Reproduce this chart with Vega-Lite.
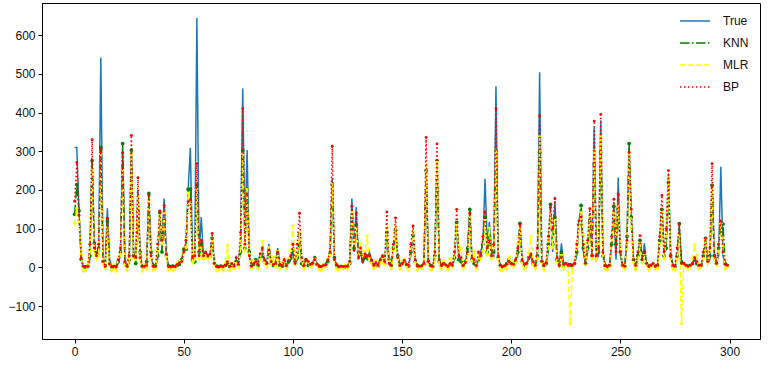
{
"$schema": "https://vega.github.io/schema/vega-lite/v6.json",
"width": 718, "height": 336,
"autosize": {"type": "none"},
"padding": {"left": 42, "top": 3, "right": 8, "bottom": 26},
"background": "white",
"config": {
 "view": {"stroke": "black", "strokeWidth": 1},
 "axis": {"labelFont": "Liberation Sans", "labelFontSize": 12, "labelColor": "#111", "tickColor": "black", "tickSize": 4, "labelPadding": 3, "domainColor": "black", "grid": false, "title": null},
 "legend": {"labelFont": "Liberation Sans", "labelFontSize": 12, "labelColor": "#111"}
},
"data": {"values": [
{"i":0,"True":310,"KNN":137,"MLR":111,"BP":171},
{"i":1,"True":310,"KNN":214,"MLR":150,"BP":271},
{"i":2,"True":140,"KNN":146,"MLR":117,"BP":135},
{"i":3,"True":20,"KNN":21,"MLR":30,"BP":25},
{"i":4,"True":0,"KNN":2,"MLR":-12,"BP":3},
{"i":5,"True":0,"KNN":1,"MLR":-10,"BP":2},
{"i":6,"True":0,"KNN":2,"MLR":5,"BP":3},
{"i":7,"True":20,"KNN":30,"MLR":40,"BP":60},
{"i":8,"True":270,"KNN":276,"MLR":250,"BP":330},
{"i":9,"True":60,"KNN":63,"MLR":40,"BP":50},
{"i":10,"True":30,"KNN":35,"MLR":20,"BP":30},
{"i":11,"True":40,"KNN":50,"MLR":30,"BP":60},
{"i":12,"True":542,"KNN":310,"MLR":290,"BP":305},
{"i":13,"True":20,"KNN":15,"MLR":10,"BP":15},
{"i":14,"True":5,"KNN":5,"MLR":-5,"BP":2},
{"i":15,"True":153,"KNN":120,"MLR":100,"BP":127},
{"i":16,"True":20,"KNN":10,"MLR":5,"BP":8},
{"i":17,"True":0,"KNN":2,"MLR":-10,"BP":2},
{"i":18,"True":0,"KNN":1,"MLR":5,"BP":3},
{"i":19,"True":0,"KNN":2,"MLR":-12,"BP":1},
{"i":20,"True":10,"KNN":15,"MLR":25,"BP":20},
{"i":21,"True":30,"KNN":40,"MLR":30,"BP":50},
{"i":22,"True":300,"KNN":320,"MLR":250,"BP":296},
{"i":23,"True":20,"KNN":10,"MLR":5,"BP":15},
{"i":24,"True":5,"KNN":3,"MLR":-8,"BP":4},
{"i":25,"True":10,"KNN":20,"MLR":20,"BP":30},
{"i":26,"True":300,"KNN":303,"MLR":290,"BP":341},
{"i":27,"True":40,"KNN":30,"MLR":20,"BP":30},
{"i":28,"True":20,"KNN":10,"MLR":20,"BP":25},
{"i":29,"True":200,"KNN":145,"MLR":180,"BP":232},
{"i":30,"True":30,"KNN":40,"MLR":20,"BP":25},
{"i":31,"True":0,"KNN":3,"MLR":-10,"BP":2},
{"i":32,"True":0,"KNN":2,"MLR":5,"BP":3},
{"i":33,"True":10,"KNN":15,"MLR":-5,"BP":5},
{"i":34,"True":180,"KNN":191,"MLR":170,"BP":185},
{"i":35,"True":30,"KNN":40,"MLR":20,"BP":30},
{"i":36,"True":0,"KNN":5,"MLR":-8,"BP":3},
{"i":37,"True":0,"KNN":3,"MLR":-5,"BP":2},
{"i":38,"True":20,"KNN":30,"MLR":40,"BP":60},
{"i":39,"True":120,"KNN":142,"MLR":130,"BP":146},
{"i":40,"True":50,"KNN":40,"MLR":60,"BP":70},
{"i":41,"True":178,"KNN":122,"MLR":140,"BP":160},
{"i":42,"True":40,"KNN":30,"MLR":25,"BP":35},
{"i":43,"True":0,"KNN":4,"MLR":-8,"BP":2},
{"i":44,"True":0,"KNN":2,"MLR":-5,"BP":1},
{"i":45,"True":5,"KNN":3,"MLR":-10,"BP":3},
{"i":46,"True":0,"KNN":2,"MLR":-6,"BP":2},
{"i":47,"True":5,"KNN":6,"MLR":10,"BP":8},
{"i":48,"True":10,"KNN":8,"MLR":15,"BP":12},
{"i":49,"True":15,"KNN":20,"MLR":10,"BP":15},
{"i":50,"True":40,"KNN":47,"MLR":35,"BP":40},
{"i":51,"True":60,"KNN":47,"MLR":50,"BP":70},
{"i":52,"True":200,"KNN":202,"MLR":190,"BP":170},
{"i":53,"True":309,"KNN":202,"MLR":160,"BP":175},
{"i":54,"True":30,"KNN":20,"MLR":10,"BP":25},
{"i":55,"True":10,"KNN":15,"MLR":20,"BP":30},
{"i":56,"True":644,"KNN":213,"MLR":200,"BP":268},
{"i":57,"True":30,"KNN":40,"MLR":20,"BP":30},
{"i":58,"True":130,"KNN":60,"MLR":50,"BP":70},
{"i":59,"True":30,"KNN":25,"MLR":20,"BP":30},
{"i":60,"True":40,"KNN":35,"MLR":30,"BP":40},
{"i":61,"True":30,"KNN":25,"MLR":20,"BP":30},
{"i":62,"True":30,"KNN":28,"MLR":25,"BP":35},
{"i":63,"True":75,"KNN":75,"MLR":70,"BP":88},
{"i":64,"True":10,"KNN":10,"MLR":5,"BP":10},
{"i":65,"True":0,"KNN":3,"MLR":-10,"BP":2},
{"i":66,"True":0,"KNN":2,"MLR":-8,"BP":1},
{"i":67,"True":5,"KNN":3,"MLR":0,"BP":3},
{"i":68,"True":0,"KNN":2,"MLR":-10,"BP":2},
{"i":69,"True":5,"KNN":5,"MLR":10,"BP":6},
{"i":70,"True":10,"KNN":10,"MLR":55,"BP":15},
{"i":71,"True":0,"KNN":3,"MLR":-10,"BP":2},
{"i":72,"True":5,"KNN":6,"MLR":8,"BP":10},
{"i":73,"True":0,"KNN":2,"MLR":-5,"BP":3},
{"i":74,"True":20,"KNN":15,"MLR":10,"BP":25},
{"i":75,"True":10,"KNN":5,"MLR":0,"BP":8},
{"i":76,"True":60,"KNN":40,"MLR":50,"BP":90},
{"i":77,"True":462,"KNN":302,"MLR":290,"BP":410},
{"i":78,"True":80,"KNN":50,"MLR":40,"BP":60},
{"i":79,"True":303,"KNN":202,"MLR":200,"BP":190},
{"i":80,"True":30,"KNN":40,"MLR":30,"BP":30},
{"i":81,"True":5,"KNN":5,"MLR":-5,"BP":3},
{"i":82,"True":10,"KNN":8,"MLR":15,"BP":10},
{"i":83,"True":20,"KNN":20,"MLR":10,"BP":15},
{"i":84,"True":10,"KNN":5,"MLR":-5,"BP":8},
{"i":85,"True":30,"KNN":25,"MLR":20,"BP":35},
{"i":86,"True":40,"KNN":30,"MLR":66,"BP":50},
{"i":87,"True":20,"KNN":15,"MLR":10,"BP":20},
{"i":88,"True":10,"KNN":10,"MLR":0,"BP":10},
{"i":89,"True":60,"KNN":40,"MLR":50,"BP":45},
{"i":90,"True":10,"KNN":10,"MLR":5,"BP":15},
{"i":91,"True":5,"KNN":5,"MLR":25,"BP":8},
{"i":92,"True":10,"KNN":8,"MLR":0,"BP":10},
{"i":93,"True":50,"KNN":35,"MLR":40,"BP":40},
{"i":94,"True":10,"KNN":5,"MLR":-5,"BP":8},
{"i":95,"True":5,"KNN":3,"MLR":10,"BP":5},
{"i":96,"True":20,"KNN":15,"MLR":20,"BP":20},
{"i":97,"True":5,"KNN":3,"MLR":-5,"BP":4},
{"i":98,"True":10,"KNN":15,"MLR":20,"BP":18},
{"i":99,"True":20,"KNN":25,"MLR":40,"BP":30},
{"i":100,"True":40,"KNN":45,"MLR":106,"BP":60},
{"i":101,"True":10,"KNN":15,"MLR":5,"BP":10},
{"i":102,"True":20,"KNN":25,"MLR":30,"BP":60},
{"i":103,"True":80,"KNN":85,"MLR":90,"BP":140},
{"i":104,"True":15,"KNN":10,"MLR":20,"BP":25},
{"i":105,"True":5,"KNN":5,"MLR":-5,"BP":5},
{"i":106,"True":20,"KNN":20,"MLR":10,"BP":20},
{"i":107,"True":10,"KNN":5,"MLR":15,"BP":15},
{"i":108,"True":5,"KNN":5,"MLR":0,"BP":8},
{"i":109,"True":10,"KNN":10,"MLR":5,"BP":10},
{"i":110,"True":25,"KNN":25,"MLR":20,"BP":20},
{"i":111,"True":10,"KNN":8,"MLR":5,"BP":8},
{"i":112,"True":5,"KNN":3,"MLR":-8,"BP":3},
{"i":113,"True":0,"KNN":2,"MLR":-10,"BP":2},
{"i":114,"True":5,"KNN":5,"MLR":5,"BP":5},
{"i":115,"True":10,"KNN":8,"MLR":0,"BP":6},
{"i":116,"True":20,"KNN":15,"MLR":20,"BP":20},
{"i":117,"True":30,"KNN":35,"MLR":30,"BP":40},
{"i":118,"True":230,"KNN":214,"MLR":214,"BP":313},
{"i":119,"True":20,"KNN":25,"MLR":15,"BP":20},
{"i":120,"True":5,"KNN":5,"MLR":-5,"BP":8},
{"i":121,"True":0,"KNN":2,"MLR":-8,"BP":2},
{"i":122,"True":0,"KNN":2,"MLR":0,"BP":3},
{"i":123,"True":0,"KNN":1,"MLR":-5,"BP":2},
{"i":124,"True":0,"KNN":2,"MLR":5,"BP":3},
{"i":125,"True":0,"KNN":3,"MLR":-6,"BP":2},
{"i":126,"True":20,"KNN":10,"MLR":10,"BP":15},
{"i":127,"True":178,"KNN":128,"MLR":140,"BP":158},
{"i":128,"True":40,"KNN":50,"MLR":60,"BP":45},
{"i":129,"True":155,"KNN":110,"MLR":100,"BP":141},
{"i":130,"True":20,"KNN":40,"MLR":30,"BP":25},
{"i":131,"True":40,"KNN":35,"MLR":60,"BP":50},
{"i":132,"True":10,"KNN":20,"MLR":30,"BP":15},
{"i":133,"True":30,"KNN":25,"MLR":40,"BP":35},
{"i":134,"True":20,"KNN":25,"MLR":80,"BP":30},
{"i":135,"True":40,"KNN":30,"MLR":20,"BP":30},
{"i":136,"True":20,"KNN":15,"MLR":10,"BP":20},
{"i":137,"True":5,"KNN":5,"MLR":-5,"BP":5},
{"i":138,"True":10,"KNN":8,"MLR":15,"BP":12},
{"i":139,"True":5,"KNN":3,"MLR":0,"BP":5},
{"i":140,"True":20,"KNN":15,"MLR":10,"BP":20},
{"i":141,"True":30,"KNN":25,"MLR":20,"BP":30},
{"i":142,"True":10,"KNN":10,"MLR":5,"BP":15},
{"i":143,"True":80,"KNN":90,"MLR":100,"BP":143},
{"i":144,"True":10,"KNN":20,"MLR":15,"BP":10},
{"i":145,"True":5,"KNN":5,"MLR":-5,"BP":5},
{"i":146,"True":40,"KNN":50,"MLR":40,"BP":60},
{"i":147,"True":90,"KNN":96,"MLR":100,"BP":128},
{"i":148,"True":30,"KNN":30,"MLR":20,"BP":25},
{"i":149,"True":5,"KNN":5,"MLR":-5,"BP":5},
{"i":150,"True":10,"KNN":10,"MLR":15,"BP":10},
{"i":151,"True":20,"KNN":15,"MLR":20,"BP":18},
{"i":152,"True":10,"KNN":5,"MLR":0,"BP":8},
{"i":153,"True":5,"KNN":3,"MLR":-8,"BP":5},
{"i":154,"True":30,"KNN":40,"MLR":50,"BP":60},
{"i":155,"True":83,"KNN":83,"MLR":90,"BP":107},
{"i":156,"True":20,"KNN":15,"MLR":10,"BP":20},
{"i":157,"True":5,"KNN":5,"MLR":-8,"BP":3},
{"i":158,"True":0,"KNN":2,"MLR":0,"BP":3},
{"i":159,"True":5,"KNN":3,"MLR":-5,"BP":4},
{"i":160,"True":10,"KNN":8,"MLR":5,"BP":10},
{"i":161,"True":250,"KNN":250,"MLR":262,"BP":336},
{"i":162,"True":20,"KNN":15,"MLR":10,"BP":15},
{"i":163,"True":5,"KNN":5,"MLR":-8,"BP":4},
{"i":164,"True":0,"KNN":2,"MLR":-5,"BP":3},
{"i":165,"True":20,"KNN":30,"MLR":20,"BP":40},
{"i":166,"True":276,"KNN":276,"MLR":270,"BP":319},
{"i":167,"True":20,"KNN":15,"MLR":10,"BP":20},
{"i":168,"True":5,"KNN":5,"MLR":-5,"BP":5},
{"i":169,"True":10,"KNN":10,"MLR":15,"BP":10},
{"i":170,"True":5,"KNN":5,"MLR":0,"BP":6},
{"i":171,"True":0,"KNN":2,"MLR":-8,"BP":3},
{"i":172,"True":10,"KNN":8,"MLR":20,"BP":10},
{"i":173,"True":5,"KNN":5,"MLR":0,"BP":5},
{"i":174,"True":20,"KNN":25,"MLR":30,"BP":40},
{"i":175,"True":116,"KNN":116,"MLR":110,"BP":150},
{"i":176,"True":30,"KNN":20,"MLR":40,"BP":30},
{"i":177,"True":20,"KNN":15,"MLR":50,"BP":25},
{"i":178,"True":5,"KNN":5,"MLR":-5,"BP":5},
{"i":179,"True":10,"KNN":15,"MLR":10,"BP":12},
{"i":180,"True":40,"KNN":50,"MLR":30,"BP":40},
{"i":181,"True":150,"KNN":150,"MLR":130,"BP":140},
{"i":182,"True":20,"KNN":20,"MLR":15,"BP":25},
{"i":183,"True":10,"KNN":10,"MLR":40,"BP":20},
{"i":184,"True":5,"KNN":5,"MLR":-5,"BP":5},
{"i":185,"True":20,"KNN":20,"MLR":30,"BP":40},
{"i":186,"True":40,"KNN":30,"MLR":20,"BP":30},
{"i":187,"True":60,"KNN":60,"MLR":40,"BP":80},
{"i":188,"True":229,"KNN":130,"MLR":120,"BP":143},
{"i":189,"True":60,"KNN":40,"MLR":30,"BP":50},
{"i":190,"True":118,"KNN":80,"MLR":100,"BP":70},
{"i":191,"True":40,"KNN":30,"MLR":20,"BP":30},
{"i":192,"True":30,"KNN":40,"MLR":50,"BP":60},
{"i":193,"True":468,"KNN":302,"MLR":300,"BP":410},
{"i":194,"True":30,"KNN":25,"MLR":20,"BP":30},
{"i":195,"True":5,"KNN":5,"MLR":-8,"BP":5},
{"i":196,"True":0,"KNN":2,"MLR":-10,"BP":2},
{"i":197,"True":5,"KNN":3,"MLR":0,"BP":4},
{"i":198,"True":10,"KNN":10,"MLR":-5,"BP":8},
{"i":199,"True":20,"KNN":20,"MLR":25,"BP":15},
{"i":200,"True":10,"KNN":10,"MLR":15,"BP":10},
{"i":201,"True":5,"KNN":5,"MLR":0,"BP":8},
{"i":202,"True":20,"KNN":15,"MLR":10,"BP":20},
{"i":203,"True":30,"KNN":40,"MLR":60,"BP":50},
{"i":204,"True":110,"KNN":114,"MLR":100,"BP":110},
{"i":205,"True":20,"KNN":15,"MLR":10,"BP":20},
{"i":206,"True":5,"KNN":5,"MLR":-5,"BP":8},
{"i":207,"True":10,"KNN":10,"MLR":0,"BP":10},
{"i":208,"True":20,"KNN":25,"MLR":35,"BP":25},
{"i":209,"True":30,"KNN":30,"MLR":77,"BP":35},
{"i":210,"True":10,"KNN":10,"MLR":5,"BP":15},
{"i":211,"True":5,"KNN":5,"MLR":-5,"BP":5},
{"i":212,"True":20,"KNN":30,"MLR":20,"BP":50},
{"i":213,"True":504,"KNN":297,"MLR":336,"BP":392},
{"i":214,"True":20,"KNN":15,"MLR":10,"BP":15},
{"i":215,"True":5,"KNN":5,"MLR":-8,"BP":5},
{"i":216,"True":10,"KNN":10,"MLR":15,"BP":12},
{"i":217,"True":40,"KNN":60,"MLR":50,"BP":80},
{"i":218,"True":150,"KNN":163,"MLR":140,"BP":155},
{"i":219,"True":40,"KNN":60,"MLR":50,"BP":100},
{"i":220,"True":170,"KNN":130,"MLR":120,"BP":178},
{"i":221,"True":20,"KNN":20,"MLR":10,"BP":25},
{"i":222,"True":5,"KNN":5,"MLR":0,"BP":5},
{"i":223,"True":62,"KNN":40,"MLR":30,"BP":25},
{"i":224,"True":5,"KNN":5,"MLR":-5,"BP":8},
{"i":225,"True":10,"KNN":10,"MLR":5,"BP":10},
{"i":226,"True":5,"KNN":8,"MLR":0,"BP":5},
{"i":227,"True":10,"KNN":5,"MLR":-147,"BP":8},
{"i":228,"True":5,"KNN":5,"MLR":-5,"BP":5},
{"i":229,"True":10,"KNN":10,"MLR":15,"BP":10},
{"i":230,"True":30,"KNN":40,"MLR":50,"BP":60},
{"i":231,"True":120,"KNN":110,"MLR":100,"BP":120},
{"i":232,"True":150,"KNN":160,"MLR":140,"BP":130},
{"i":233,"True":40,"KNN":50,"MLR":80,"BP":60},
{"i":234,"True":10,"KNN":10,"MLR":5,"BP":10},
{"i":235,"True":40,"KNN":50,"MLR":60,"BP":70},
{"i":236,"True":140,"KNN":120,"MLR":130,"BP":152},
{"i":237,"True":40,"KNN":30,"MLR":20,"BP":30},
{"i":238,"True":360,"KNN":266,"MLR":300,"BP":378},
{"i":239,"True":20,"KNN":30,"MLR":20,"BP":30},
{"i":240,"True":30,"KNN":40,"MLR":60,"BP":50},
{"i":241,"True":380,"KNN":297,"MLR":336,"BP":395},
{"i":242,"True":40,"KNN":30,"MLR":30,"BP":40},
{"i":243,"True":5,"KNN":5,"MLR":-5,"BP":5},
{"i":244,"True":0,"KNN":2,"MLR":-8,"BP":3},
{"i":245,"True":5,"KNN":5,"MLR":0,"BP":5},
{"i":246,"True":60,"KNN":60,"MLR":70,"BP":80},
{"i":247,"True":150,"KNN":158,"MLR":140,"BP":176},
{"i":248,"True":20,"KNN":60,"MLR":80,"BP":40},
{"i":249,"True":232,"KNN":150,"MLR":160,"BP":189},
{"i":250,"True":30,"KNN":40,"MLR":50,"BP":40},
{"i":251,"True":5,"KNN":5,"MLR":0,"BP":5},
{"i":252,"True":0,"KNN":3,"MLR":-5,"BP":3},
{"i":253,"True":60,"KNN":80,"MLR":60,"BP":70},
{"i":254,"True":310,"KNN":320,"MLR":290,"BP":297},
{"i":255,"True":120,"KNN":130,"MLR":100,"BP":150},
{"i":256,"True":20,"KNN":20,"MLR":10,"BP":20},
{"i":257,"True":5,"KNN":5,"MLR":-8,"BP":5},
{"i":258,"True":20,"KNN":30,"MLR":20,"BP":40},
{"i":259,"True":70,"KNN":70,"MLR":60,"BP":82},
{"i":260,"True":20,"KNN":20,"MLR":10,"BP":20},
{"i":261,"True":62,"KNN":40,"MLR":30,"BP":40},
{"i":262,"True":5,"KNN":10,"MLR":5,"BP":10},
{"i":263,"True":0,"KNN":3,"MLR":-8,"BP":3},
{"i":264,"True":5,"KNN":5,"MLR":0,"BP":5},
{"i":265,"True":10,"KNN":8,"MLR":5,"BP":10},
{"i":266,"True":0,"KNN":3,"MLR":-5,"BP":3},
{"i":267,"True":5,"KNN":5,"MLR":-5,"BP":5},
{"i":268,"True":60,"KNN":70,"MLR":60,"BP":80},
{"i":269,"True":150,"KNN":150,"MLR":140,"BP":186},
{"i":270,"True":40,"KNN":30,"MLR":20,"BP":40},
{"i":271,"True":60,"KNN":50,"MLR":80,"BP":100},
{"i":272,"True":240,"KNN":219,"MLR":230,"BP":250},
{"i":273,"True":40,"KNN":30,"MLR":20,"BP":30},
{"i":274,"True":5,"KNN":5,"MLR":-5,"BP":5},
{"i":275,"True":0,"KNN":2,"MLR":-8,"BP":3},
{"i":276,"True":20,"KNN":30,"MLR":20,"BP":50},
{"i":277,"True":100,"KNN":113,"MLR":80,"BP":112},
{"i":278,"True":10,"KNN":15,"MLR":-147,"BP":10},
{"i":279,"True":10,"KNN":10,"MLR":5,"BP":10},
{"i":280,"True":5,"KNN":5,"MLR":0,"BP":5},
{"i":281,"True":0,"KNN":3,"MLR":-5,"BP":3},
{"i":282,"True":5,"KNN":5,"MLR":0,"BP":5},
{"i":283,"True":10,"KNN":10,"MLR":20,"BP":10},
{"i":284,"True":20,"KNN":20,"MLR":57,"BP":25},
{"i":285,"True":10,"KNN":10,"MLR":30,"BP":15},
{"i":286,"True":5,"KNN":5,"MLR":-5,"BP":5},
{"i":287,"True":5,"KNN":5,"MLR":0,"BP":5},
{"i":288,"True":20,"KNN":30,"MLR":20,"BP":40},
{"i":289,"True":75,"KNN":75,"MLR":70,"BP":75},
{"i":290,"True":10,"KNN":20,"MLR":10,"BP":15},
{"i":291,"True":20,"KNN":30,"MLR":40,"BP":50},
{"i":292,"True":210,"KNN":212,"MLR":200,"BP":268},
{"i":293,"True":40,"KNN":30,"MLR":20,"BP":30},
{"i":294,"True":10,"KNN":10,"MLR":5,"BP":10},
{"i":295,"True":30,"KNN":50,"MLR":40,"BP":60},
{"i":296,"True":260,"KNN":100,"MLR":110,"BP":120},
{"i":297,"True":30,"KNN":112,"MLR":50,"BP":40},
{"i":298,"True":5,"KNN":10,"MLR":-5,"BP":8},
{"i":299,"True":5,"KNN":5,"MLR":0,"BP":5}
]},
"transform": [{"fold": ["True", "KNN", "MLR", "BP"], "as": ["series", "value"]}],
"encoding": {
 "x": {"field": "i", "type": "quantitative", "scale": {"domain": [-14.95, 313.95], "nice": false, "zero": false}, "axis": {"values": [0, 50, 100, 150, 200, 250, 300], "format": "d"}},
 "y": {"field": "value", "type": "quantitative", "scale": {"domain": [-185, 683], "nice": false}, "axis": {"values": [-100, 0, 100, 200, 300, 400, 500, 600], "format": "d"}}
},
"layer": [
 {"transform": [{"filter": "datum.series === 'True'"}],
  "mark": {"type": "line", "strokeWidth": 1.5},
  "encoding": {
   "color": {"field": "series", "type": "nominal", "scale": {"domain": ["True", "KNN", "MLR", "BP"], "range": ["#1f77b4", "#008000", "#ffff00", "#ff0000"]}, "legend": {"title": null, "orient": "none", "legendX": 637, "legendY": 2, "symbolType": "stroke", "symbolSize": 900, "symbolStrokeWidth": 1.5, "rowPadding": 0, "labelOffset": 12}},
   "strokeDash": {"field": "series", "type": "nominal", "scale": {"domain": ["True", "KNN", "MLR", "BP"], "range": [[1, 0], [9.6, 2.4, 1.5, 2.4], [5.55, 2.4], [1.5, 2.475]]}, "legend": {"title": null, "orient": "none", "legendX": 637, "legendY": 2, "symbolType": "stroke", "symbolSize": 900, "symbolStrokeWidth": 1.5, "rowPadding": 0, "labelOffset": 12}}
  }},
 {"transform": [{"filter": "datum.series === 'KNN'"}],
  "mark": {"type": "line", "strokeWidth": 1.5},
  "encoding": {"color": {"field": "series", "type": "nominal"}, "strokeDash": {"field": "series", "type": "nominal"}}},
 {"transform": [{"filter": "datum.series === 'KNN'"}],
  "mark": {"type": "point", "shape": "circle", "filled": true, "size": 14, "color": "#008000", "opacity": 1}},
 {"transform": [{"filter": "datum.series === 'MLR'"}],
  "mark": {"type": "line", "strokeWidth": 1.5},
  "encoding": {"color": {"field": "series", "type": "nominal"}, "strokeDash": {"field": "series", "type": "nominal"}}},
 {"transform": [{"filter": "datum.series === 'MLR'"}],
  "mark": {"type": "point", "shape": "triangle-down", "filled": true, "size": 18, "color": "#ffff00", "opacity": 1}},
 {"transform": [{"filter": "datum.series === 'BP'"}],
  "mark": {"type": "line", "strokeWidth": 1.5},
  "encoding": {"color": {"field": "series", "type": "nominal"}, "strokeDash": {"field": "series", "type": "nominal"}}},
 {"transform": [{"filter": "datum.series === 'BP'"}],
  "mark": {"type": "point", "shape": "circle", "filled": true, "size": 8, "color": "#ff0000", "opacity": 1}}
]
}
